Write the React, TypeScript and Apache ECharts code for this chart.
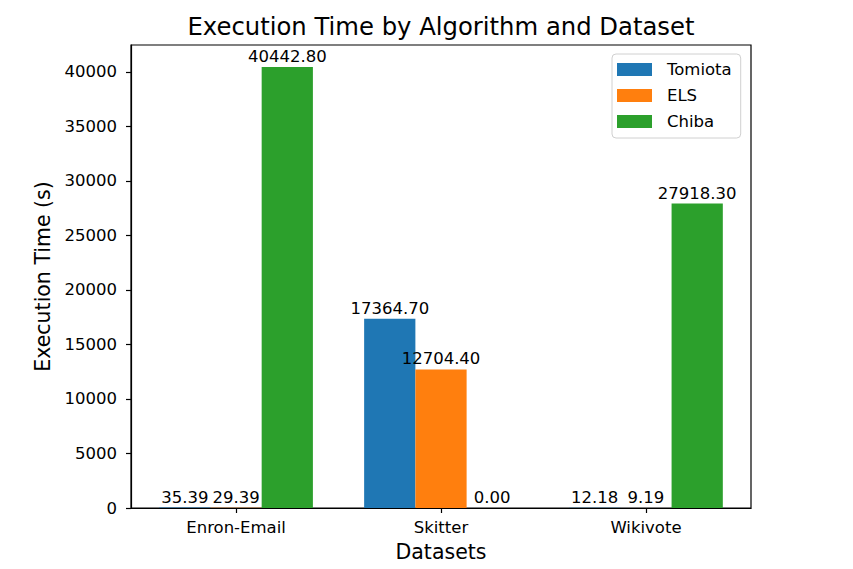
import React, { useEffect, useRef } from "react";
import * as echarts from "echarts";

const categories = ["Enron-Email", "Skitter", "Wikivote"];
const seriesNames = ["Tomiota", "ELS", "Chiba"];
const tomiota = [35.39, 17364.7, 12.18];
const els = [29.39, 12704.4, 9.19];
const chiba = [40442.8, 0.0, 27918.3];
const yTicks = [0, 5000, 10000, 15000, 20000, 25000, 30000, 35000, 40000];
const colors = ["#1f77b4", "#ff7f0e", "#2ca02c"];

const FONT = "DejaVu Sans";

export default function App() {
  const ref = useRef<HTMLDivElement>(null);
  useEffect(() => {
    document.body.style.margin = "0";
    const chart = echarts.init(ref.current!, null, { renderer: "svg" });
    const allSeries = [tomiota, els, chiba];
    const maxVal = Math.max(...allSeries.flat());
    const xIdx = categories.map((_, i) => i);
    chart.setOption({
      animation: false,
      backgroundColor: "#ffffff",
      textStyle: { fontFamily: FONT },
      graphic: [
        {
          type: "text",
          x: 441,
          y: 14,
          style: {
            text: "Execution Time by Algorithm and Dataset",
            fontFamily: FONT,
            fontSize: 24.3,
            fill: "#000",
            textAlign: "center",
            textVerticalAlign: "top",
          },
        },
      ],
      legend: {
        orient: "vertical",
        left: 612,
        top: 54,
        icon: "rect",
        itemWidth: 35,
        itemHeight: 13,
        itemGap: 9,
        padding: [7, 9, 8, 5],
        backgroundColor: "#fff",
        borderColor: "#d0d0d0",
        borderWidth: 1,
        borderRadius: 4,
        textStyle: {
          fontFamily: FONT,
          fontSize: 16.5,
          color: "#000",
          padding: [0, 0, 0, 10],
        },
        data: seriesNames,
      },
      grid: {
        left: 131,
        right: 102,
        top: 45,
        bottom: 61,
        show: true,
        borderColor: "#000",
        borderWidth: 1.2,
        backgroundColor: "transparent",
      },
      xAxis: {
        type: "value",
        min: -0.5125,
        max: categories.length - 1 + 0.5125,
        splitLine: { show: false },
        axisLine: { show: true, onZero: false, lineStyle: { color: "#000", width: 1.2 } },
        axisTick: {
          show: true,
          customValues: xIdx,
          length: 5,
          lineStyle: { color: "#000", width: 1.2 },
        },
        axisLabel: {
          customValues: xIdx,
          formatter: (v: number) => categories[Math.round(v)] ?? "",
          fontFamily: FONT,
          fontSize: 16.5,
          color: "#000",
          margin: 11,
        },
        name: "Datasets",
        nameLocation: "middle",
        nameGap: 33,
        nameTextStyle: { fontFamily: FONT, fontSize: 20.5, color: "#000" },
      },
      yAxis: {
        type: "value",
        min: 0,
        max: maxVal * 1.05,
        splitLine: { show: false },
        axisLine: { show: true, onZero: false, lineStyle: { color: "#000", width: 1.2 } },
        axisTick: {
          show: true,
          customValues: yTicks,
          length: 5,
          lineStyle: { color: "#000", width: 1.2 },
        },
        axisLabel: {
          customValues: yTicks,
          formatter: (v: number) => String(v),
          fontFamily: FONT,
          fontSize: 16.5,
          color: "#000",
          margin: 14,
        },
        name: "Execution Time (s)",
        nameLocation: "middle",
        nameGap: 78,
        nameTextStyle: { fontFamily: FONT, fontSize: 20.5, color: "#000" },
      },
      series: allSeries.map((vals, si) => ({
        type: "bar",
        name: seriesNames[si],
        data: vals.map((v, i) => [i, v]),
        barWidth: "25%",
        barGap: "0%",
        itemStyle: { color: colors[si] },
        label: {
          show: true,
          position: "top",
          distance: 2,
          fontFamily: FONT,
          fontSize: 16.5,
          color: "#000",
          formatter: (p: any) => Number(p.value[1]).toFixed(2),
        },
      })),
    });
    return () => chart.dispose();
  }, []);
  return <div ref={ref} style={{ width: 853, height: 569 }} />;
}
